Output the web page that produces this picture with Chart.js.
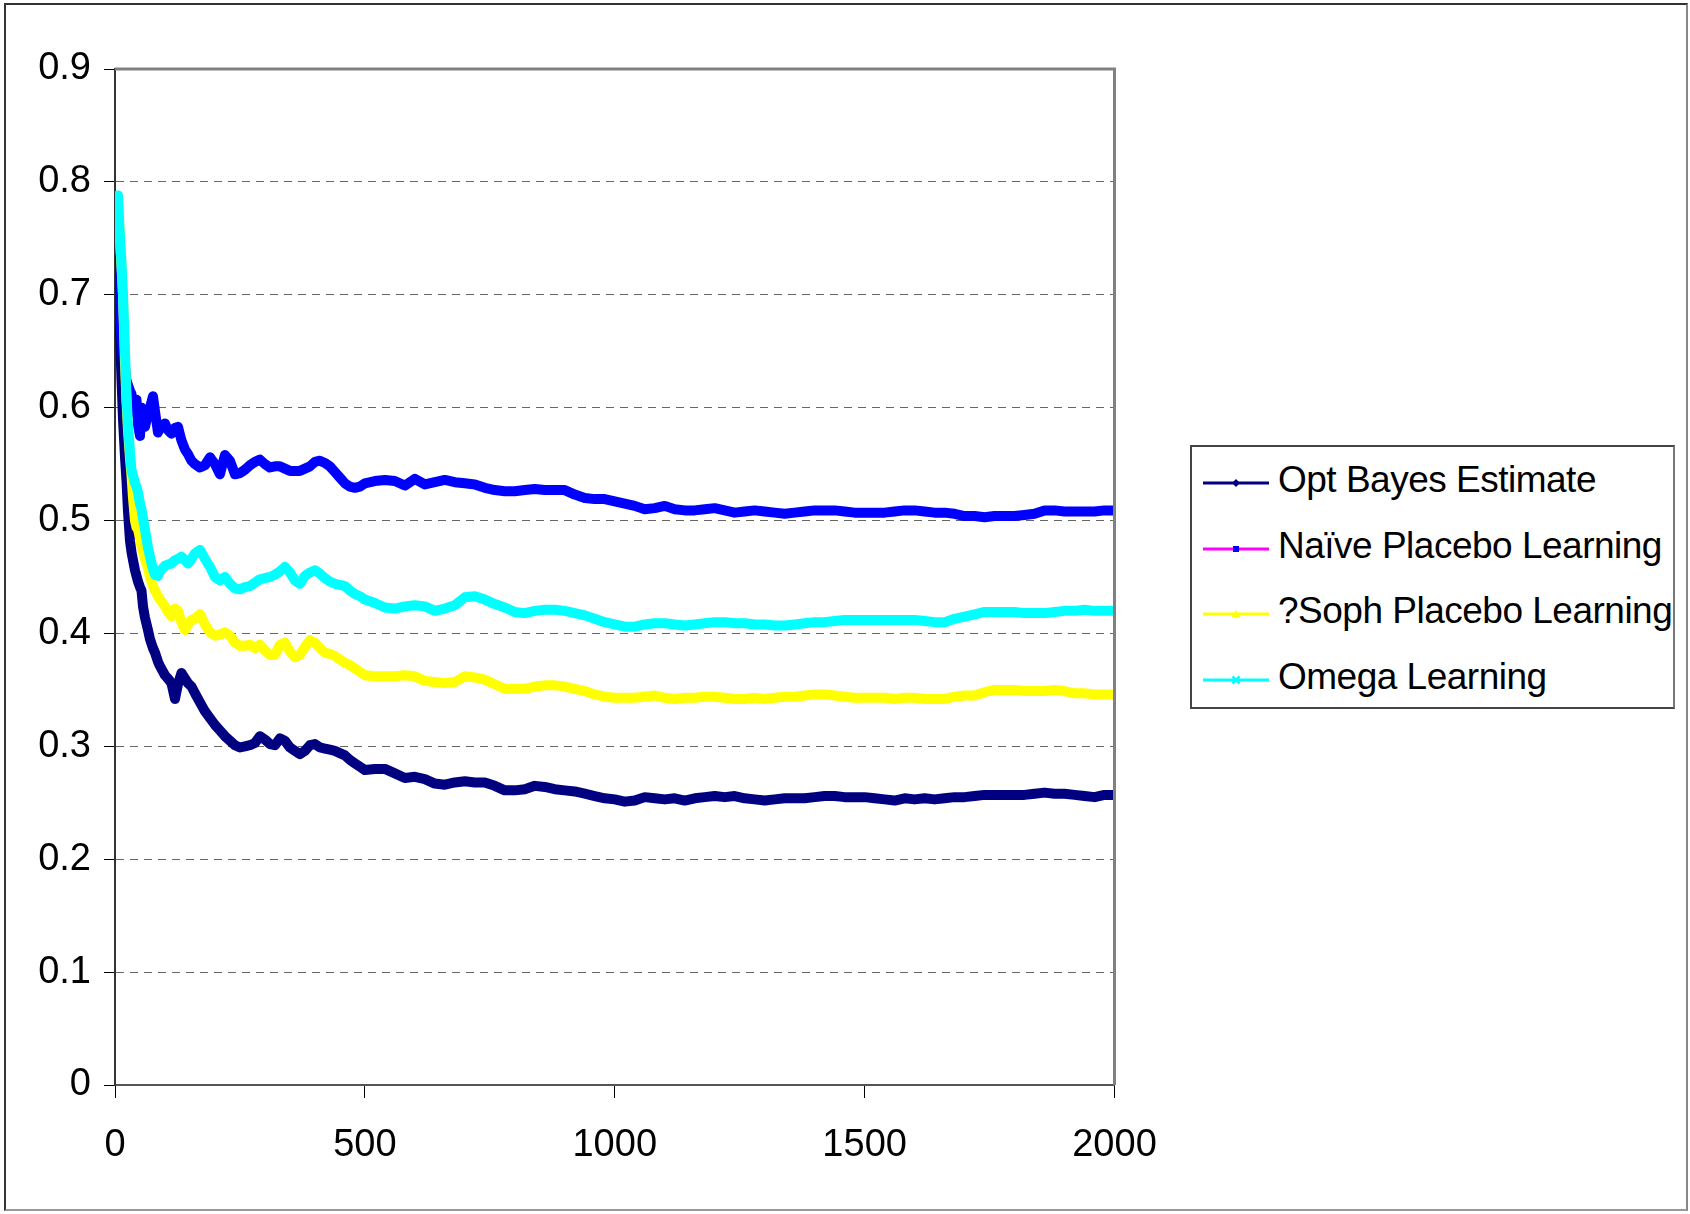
<!DOCTYPE html>
<html>
<head>
<meta charset="utf-8">
<script src="https://cdn.jsdelivr.net/npm/chart.js@4.4.1/dist/chart.umd.min.js"></script>
<style>
  html, body { margin: 0; padding: 0; background: #fff; }
  #wrap { position: relative; width: 1690px; height: 1214px; overflow: hidden; }
  #frame { position: absolute; left: 4px; top: 3px; width: 1680px; height: 1204px;
    border: 2px solid #333; border-right-color: #888; border-bottom-color: #999; pointer-events: none; }
  #legend { position: absolute; left: 1190px; top: 445px; width: 481px; height: 260px;
    border: 2px solid #444; border-right-color: #777; background: #fff;
    font-family: "Liberation Sans", Arial, sans-serif; font-size: 37px; color: #000; }
  .item { position: absolute; left: 0; height: 44px; line-height: 44px; white-space: nowrap; }
  .item svg { position: absolute; left: 11px; top: 18px; }
  .item span { position: absolute; left: 86px; letter-spacing: -0.5px; }
</style>
</head>
<body>
<div id="wrap">
  <canvas id="chart" width="1690" height="1214"></canvas>
  <div id="frame"></div>
  <div id="legend"></div>
</div>
<script>
const xValues = [0, 3, 6, 10, 13, 16, 20, 23, 26, 30, 33, 36, 40, 43, 46, 50, 53, 56, 60, 66, 70, 76, 80, 86, 90,
  100, 106, 113, 120, 126, 133, 140, 146, 153, 160,
  170, 180, 190, 200, 210, 220, 230, 240, 250, 260, 270, 280, 290, 300, 310, 320, 330, 340, 350, 360,
  370, 380, 390, 400, 410, 420, 430, 440, 450, 460, 470, 480, 490, 500,
  520, 540, 560, 580, 600, 620, 640, 660, 680, 700, 720, 740, 760, 780, 800, 820, 840, 860, 880, 900,
  920, 940, 960, 980, 1000, 1020, 1040, 1060, 1080, 1100, 1120, 1140, 1160, 1180, 1200, 1220, 1240, 1260,
  1280, 1300, 1320, 1340, 1360, 1380, 1400, 1420, 1440, 1460, 1480, 1500, 1520, 1540, 1560, 1580, 1600,
  1620, 1640, 1660, 1680, 1700, 1720, 1740, 1760, 1780, 1800, 1820, 1840, 1860, 1880, 1900, 1920, 1940,
  1960, 1980, 2000];

const optBayes = [0.728, 0.713, 0.690, 0.666, 0.625, 0.590, 0.556, 0.535, 0.508, 0.482, 0.472, 0.465, 0.456,
  0.451, 0.446, 0.441, 0.438, 0.424, 0.414, 0.403, 0.395, 0.387, 0.383, 0.375, 0.371, 0.363, 0.360, 0.356,
  0.342, 0.355, 0.365, 0.360, 0.356, 0.353, 0.347,
  0.339, 0.331, 0.325, 0.319, 0.314, 0.309, 0.305, 0.301, 0.299, 0.300, 0.301, 0.303, 0.309, 0.306, 0.302,
  0.301, 0.307, 0.305, 0.299, 0.296, 0.293, 0.296, 0.301, 0.302, 0.299, 0.298, 0.297, 0.296, 0.294, 0.292,
  0.288, 0.285, 0.282, 0.279,
  0.280, 0.280, 0.276, 0.272, 0.273, 0.271, 0.267, 0.266, 0.268, 0.269, 0.268, 0.268, 0.265, 0.261, 0.261,
  0.262, 0.265, 0.264, 0.262, 0.261, 0.260, 0.258, 0.256, 0.254, 0.253,
  0.251, 0.252, 0.255, 0.254, 0.253, 0.254, 0.252, 0.254, 0.255, 0.256, 0.255, 0.256, 0.254, 0.253, 0.252,
  0.253, 0.254, 0.254, 0.254, 0.255, 0.256, 0.256, 0.255, 0.255, 0.255,
  0.254, 0.253, 0.252, 0.254, 0.253, 0.254, 0.253, 0.254, 0.255, 0.255, 0.256, 0.257, 0.257, 0.257, 0.257,
  0.257, 0.258, 0.259, 0.258, 0.258, 0.257, 0.256, 0.255, 0.257, 0.257];

const naivePlacebo = [0.731, 0.715, 0.700, 0.680, 0.662, 0.650, 0.636, 0.624, 0.620, 0.615, 0.612, 0.600,
  0.595, 0.607, 0.585, 0.575, 0.600, 0.590, 0.583, 0.595, 0.600, 0.610, 0.597, 0.578, 0.582, 0.586, 0.580,
  0.577, 0.582, 0.583, 0.571, 0.563, 0.559, 0.553, 0.550,
  0.547, 0.549, 0.556, 0.550, 0.541, 0.558, 0.553, 0.541, 0.542, 0.545, 0.549, 0.552, 0.554, 0.550, 0.547,
  0.548, 0.548, 0.546, 0.544, 0.544, 0.544, 0.546, 0.548, 0.552, 0.553, 0.551, 0.548, 0.543, 0.538, 0.533,
  0.530, 0.529, 0.530, 0.533,
  0.535, 0.536, 0.535, 0.531, 0.537, 0.532, 0.534, 0.536, 0.534, 0.533, 0.532, 0.529, 0.527, 0.526, 0.526,
  0.527, 0.528, 0.527, 0.527, 0.527, 0.523, 0.520, 0.519, 0.519, 0.517,
  0.515, 0.513, 0.510, 0.511, 0.513, 0.510, 0.509, 0.509, 0.510, 0.511, 0.509, 0.507, 0.508, 0.509, 0.508,
  0.507, 0.506, 0.507, 0.508, 0.509, 0.509, 0.509, 0.508, 0.507, 0.507,
  0.507, 0.507, 0.508, 0.509, 0.509, 0.508, 0.507, 0.507, 0.506, 0.504, 0.504, 0.503, 0.504, 0.504, 0.504,
  0.505, 0.506, 0.509, 0.509, 0.508, 0.508, 0.508, 0.508, 0.509, 0.509];

const sophPlacebo = [0.765, 0.775, 0.785, 0.750, 0.725, 0.700, 0.640, 0.605, 0.580, 0.555, 0.540, 0.520,
  0.500, 0.494, 0.492, 0.485, 0.477, 0.472, 0.466, 0.458, 0.450, 0.442, 0.438, 0.433, 0.430, 0.424, 0.419,
  0.415, 0.422, 0.420, 0.410, 0.403, 0.408, 0.412, 0.413,
  0.417, 0.408, 0.401, 0.398, 0.399, 0.401, 0.398, 0.392, 0.389, 0.389, 0.390, 0.387, 0.390, 0.385, 0.381,
  0.381, 0.390, 0.392, 0.384, 0.379, 0.381, 0.388, 0.394, 0.392, 0.387, 0.383, 0.382, 0.380, 0.377, 0.374,
  0.372, 0.369, 0.366, 0.363,
  0.362, 0.362, 0.362, 0.363, 0.362, 0.358, 0.357, 0.356, 0.357, 0.362, 0.361, 0.359, 0.355, 0.351, 0.351,
  0.351, 0.353, 0.354, 0.354, 0.353, 0.351, 0.349, 0.346, 0.344, 0.343,
  0.343, 0.343, 0.344, 0.345, 0.343, 0.342, 0.343, 0.343, 0.344, 0.344, 0.343, 0.342, 0.342, 0.343, 0.342,
  0.343, 0.344, 0.344, 0.345, 0.346, 0.346, 0.345, 0.344, 0.343, 0.343,
  0.343, 0.343, 0.342, 0.343, 0.343, 0.342, 0.342, 0.342, 0.344, 0.345, 0.345, 0.348, 0.350, 0.350, 0.350,
  0.349, 0.349, 0.349, 0.350, 0.349, 0.347, 0.347, 0.346, 0.346, 0.346];

const omega = [0.770, 0.780, 0.788, 0.750, 0.728, 0.700, 0.650, 0.610, 0.585, 0.560, 0.545, 0.540, 0.533,
  0.530, 0.525, 0.515, 0.510, 0.502, 0.492, 0.476, 0.468, 0.457, 0.452, 0.451, 0.455, 0.460, 0.461, 0.462,
  0.465, 0.466, 0.468, 0.465, 0.462, 0.466, 0.471,
  0.474, 0.466, 0.459, 0.450, 0.447, 0.450, 0.444, 0.440, 0.439, 0.441, 0.442, 0.445, 0.448, 0.449, 0.450,
  0.452, 0.455, 0.459, 0.454, 0.447, 0.444, 0.451, 0.454, 0.456, 0.453, 0.449, 0.446, 0.444, 0.443, 0.442,
  0.438, 0.435, 0.433, 0.430,
  0.427, 0.423, 0.422, 0.424, 0.425, 0.424, 0.420, 0.422, 0.425, 0.432, 0.433, 0.430, 0.426, 0.423, 0.419,
  0.418, 0.420, 0.421, 0.421, 0.420, 0.418, 0.416, 0.413, 0.410, 0.408,
  0.406, 0.406, 0.408, 0.409, 0.409, 0.408, 0.407, 0.408, 0.409, 0.410, 0.410, 0.409, 0.409, 0.408, 0.408,
  0.407, 0.407, 0.408, 0.409, 0.410, 0.410, 0.411, 0.412, 0.412, 0.412,
  0.412, 0.412, 0.412, 0.412, 0.412, 0.411, 0.410, 0.410, 0.413, 0.415, 0.417, 0.419, 0.419, 0.419, 0.419,
  0.418, 0.418, 0.418, 0.419, 0.420, 0.420, 0.421, 0.420, 0.420, 0.420];

const seriesNames = ["Opt Bayes Estimate", "Naïve Placebo Learning", "?Soph Placebo Learning", "Omega Learning"];
const xTicks = [0, 500, 1000, 1500, 2000];
const yTicks = [0, 0.1, 0.2, 0.3, 0.4, 0.5, 0.6, 0.7, 0.8, 0.9];

// line colour, legend line colour, marker
const styles = [
  { color: "#000080", legendLine: "#000080", marker: "diamond", order: 4 },
  { color: "#0000ff", legendLine: "#ff00ff", marker: "square", order: 3 },
  { color: "#ffff00", legendLine: "#ffff00", marker: "triangle", order: 2 },
  { color: "#00ffff", legendLine: "#00ffff", marker: "cross", order: 1 }
];

const allSeries = [optBayes, naivePlacebo, sophPlacebo, omega];
allSeries.forEach((s, i) => {
  if (s.length !== xValues.length) console.warn("length mismatch", seriesNames[i], s.length, xValues.length);
});

const tickFont = { family: "'Liberation Sans', Arial, sans-serif", size: 38 };

const plotFrame = {
  id: "plotFrame",
  beforeDraw(chart) {
    const ctx = chart.ctx;
    ctx.save();
    ctx.fillStyle = "#fff";
    ctx.fillRect(0, 0, chart.width, chart.height);
    ctx.restore();
  },
  afterDraw(chart) {
    const { ctx, chartArea: a } = chart;
    ctx.save();
    ctx.strokeStyle = "#808080";
    ctx.lineWidth = 3;
    ctx.beginPath();
    ctx.moveTo(a.left, a.top);
    ctx.lineTo(a.right, a.top);
    ctx.lineTo(a.right, a.bottom);
    ctx.stroke();
    ctx.restore();
  }
};

new Chart(document.getElementById("chart"), {
  type: "line",
  data: {
    datasets: allSeries.map((values, i) => ({
      label: seriesNames[i],
      data: xValues.map((x, j) => ({ x: x, y: values[j] })),
      borderColor: styles[i].color,
      backgroundColor: styles[i].color,
      borderWidth: 10,
      borderJoinStyle: "round",
      borderCapStyle: "round",
      pointRadius: 0,
      tension: 0,
      fill: false,
      order: styles[i].order
    }))
  },
  options: {
    responsive: false,
    animation: false,
    layout: { padding: { left: 38, top: 69, right: 575.5, bottom: 54 } },
    plugins: { legend: { display: false }, tooltip: { enabled: false } },
    scales: {
      x: {
        type: "linear",
        min: 0,
        max: 2000,
        afterBuildTicks: (s) => { s.ticks = xTicks.map((v) => ({ value: v })); },
        afterFit: (s) => { s.height = 75; },
        ticks: { font: tickFont, color: "#000", padding: 25, maxRotation: 0, callback: (v) => String(v) },
        grid: { drawOnChartArea: false, drawTicks: true, tickLength: 13, color: "#000" },
        border: { color: "#555", width: 2 }
      },
      y: {
        min: 0,
        max: 0.9,
        afterBuildTicks: (s) => { s.ticks = yTicks.map((v) => ({ value: v })); },
        afterFit: (s) => { s.width = 77; },
        ticks: { font: tickFont, color: "#000", padding: 13, callback: (v) => String(+v.toFixed(1)) },
        grid: { color: "#666", lineWidth: 1, tickLength: 11, tickColor: "#000" },
        border: { color: "#333", width: 2, dash: [8, 6] }
      }
    }
  },
  plugins: [plotFrame]
});

// legend
function markerSvg(st) {
  const c = st.color;
  let m = "";
  if (st.marker === "diamond") m = `<polygon points="33,3 37,7 33,11 29,7" fill="${c}"/>`;
  if (st.marker === "square") m = `<rect x="30" y="4" width="6" height="6" fill="${c}"/>`;
  if (st.marker === "triangle") m = `<polygon points="33,3 37.5,10.5 28.5,10.5" fill="${c}"/>`;
  if (st.marker === "cross") m = `<path d="M29.5,3.5 L36.5,10.5 M36.5,3.5 L29.5,10.5" stroke="${c}" stroke-width="2.5"/>`;
  return `<svg width="66" height="14" viewBox="0 0 66 14"><line x1="0" y1="7" x2="66" y2="7" stroke="${st.legendLine}" stroke-width="3"/>${m}</svg>`;
}
const legend = document.getElementById("legend");
seriesNames.forEach((name, i) => {
  const row = document.createElement("div");
  row.className = "item";
  row.style.top = (11 + i * 65.7) + "px";
  row.innerHTML = markerSvg(styles[i]) + "<span></span>";
  row.querySelector("span").textContent = name;
  legend.appendChild(row);
});
</script>
</body>
</html>
